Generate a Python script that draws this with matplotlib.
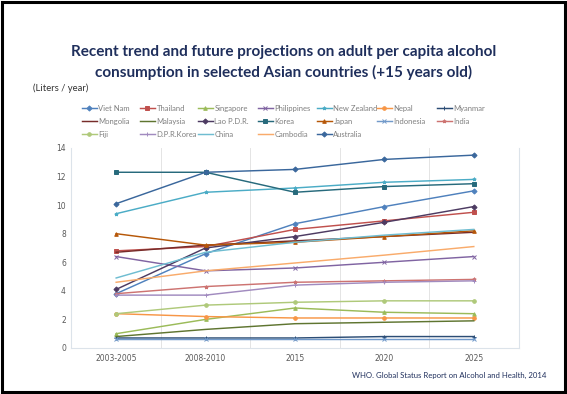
import matplotlib
matplotlib.use("Agg")
import matplotlib.pyplot as plt
from matplotlib.patches import Rectangle

periods = ["2003-2005", "2008-2010", "2015", "2020", "2025"]

countries = ["Viet Nam", "Thailand", "Singapore", "Philippines", "New Zealand", "Nepal", "Myanmar",
             "Mongolia", "Malaysia", "Lao P.D.R.", "Korea", "Japan", "Indonesia", "India",
             "Fiji", "D.P.R.Korea", "China", "Cambodia", "Australia"]

viet_nam = [3.8, 6.6, 8.7, 9.9, 11.0]
thailand = [6.8, 7.1, 8.3, 8.9, 9.5]
singapore = [1.0, 2.0, 2.8, 2.5, 2.4]
philippines = [6.4, 5.4, 5.6, 6.0, 6.4]
new_zealand = [9.4, 10.9, 11.2, 11.6, 11.8]
nepal = [2.4, 2.2, 2.1, 2.1, 2.1]
myanmar = [0.7, 0.7, 0.7, 0.8, 0.8]
mongolia = [6.7, 7.2, 7.5, 7.8, 8.1]
malaysia = [0.8, 1.3, 1.7, 1.8, 1.9]
lao = [4.1, 7.0, 7.8, 8.8, 9.9]
korea = [12.3, 12.3, 10.9, 11.3, 11.5]
japan = [8.0, 7.2, 7.4, 7.8, 8.2]
indonesia = [0.6, 0.6, 0.6, 0.6, 0.6]
india = [3.8, 4.3, 4.6, 4.7, 4.8]
fiji = [2.4, 3.0, 3.2, 3.3, 3.3]
dpr_korea = [3.7, 3.7, 4.4, 4.6, 4.7]
china = [4.9, 6.7, 7.4, 7.9, 8.3]
cambodia = [4.6, 5.4, 5.95, 6.5, 7.1]
australia = [10.1, 12.3, 12.5, 13.2, 13.5]

series = [viet_nam, thailand, singapore, philippines, new_zealand, nepal, myanmar,
          mongolia, malaysia, lao, korea, japan, indonesia, india,
          fiji, dpr_korea, china, cambodia, australia]

colors = ["#4F81BD", "#C0504D", "#9BBB59", "#8064A2", "#4BACC6", "#F79646", "#2C4D75",
          "#772C2A", "#5F7530", "#4D3B62", "#276A7C", "#B65708", "#729ACA", "#CD7371",
          "#AFC97A", "#A18BBF", "#6FBDD1", "#F9AB6B", "#3A679C"]
markers = ["D", "s", "^", "x", "*", "o", "+",
           None, None, "D", "s", "^", "x", "*",
           "o", "+", None, None, "D"]

fig = plt.figure(figsize=(5.67, 3.94), dpi=100)
fig.patch.set_facecolor("white")
fig.patches.append(Rectangle((0.003, 0.004), 0.994, 0.992, transform=fig.transFigure,
                             fill=False, edgecolor="black", linewidth=2.2))

ax = fig.add_axes([0.126, 0.1168, 0.7885, 0.5076])
x = list(range(len(periods)))
lines = []
for name, vals, c, m in zip(countries, series, colors, markers):
    ln, = ax.plot(x, vals, color=c, marker=m, markersize=2.6, markeredgewidth=0.7,
                  linewidth=1.05, label=name, clip_on=False)
    lines.append(ln)

ax.set_xlim(-0.5, 4.5)
ax.set_ylim(0, 14)
ax.set_yticks(range(0, 15, 2))
ax.set_xticks(x)
ax.set_xticklabels(periods)
ax.set_xticks([0.5, 1.5, 2.5, 3.5], minor=True)
ax.grid(True, which="minor", axis="x", color="#E4E4E4", linewidth=0.7)
ax.tick_params(which="both", length=0)
ax.tick_params(axis="both", labelsize=5.5, labelcolor="#595959", pad=4)
for side in ["left", "right", "bottom"]:
    ax.spines[side].set_color("#DCE3EA")
    ax.spines[side].set_linewidth(0.8)
ax.spines["top"].set_visible(False)

fig.text(0.5, 0.868, "Recent trend and future projections on adult per capita alcohol",
         ha="center", va="center", fontsize=11, fontweight="bold", color="#1F2F5C",
         family="Lato")
fig.text(0.5, 0.817, "consumption in selected Asian countries (+15 years old)",
         ha="center", va="center", fontsize=11, fontweight="bold", color="#1F2F5C",
         family="Lato")
fig.text(0.058, 0.776, "(Liters / year)", ha="left", va="center", fontsize=6.8,
         color="#333333", family="Lato")

# Legend laid out row by row: one small legend per column
ncol = 7
col_x = [82, 140, 198, 258, 317, 377, 437]
for c in range(ncol):
    idx = list(range(c, len(lines), ncol))
    leg = fig.legend([lines[i] for i in idx], [countries[i] for i in idx],
                     loc="upper left", bbox_to_anchor=(col_x[c] / 567, 0.734),
                     frameon=False, handlelength=1.9, handletextpad=0.25,
                     labelspacing=0.8, borderpad=0, borderaxespad=0,
                     prop={"family": "Lato", "size": 5.5})
    for t in leg.get_texts():
        t.set_color("#7F7F7F")

fig.text(0.964, 0.048, "WHO. Global Status Report on Alcohol and Health, 2014",
         ha="right", va="center", fontsize=5.6, color="#1F2F5C", family="Lato")

fig.savefig("out.png", dpi=100, facecolor="white")
